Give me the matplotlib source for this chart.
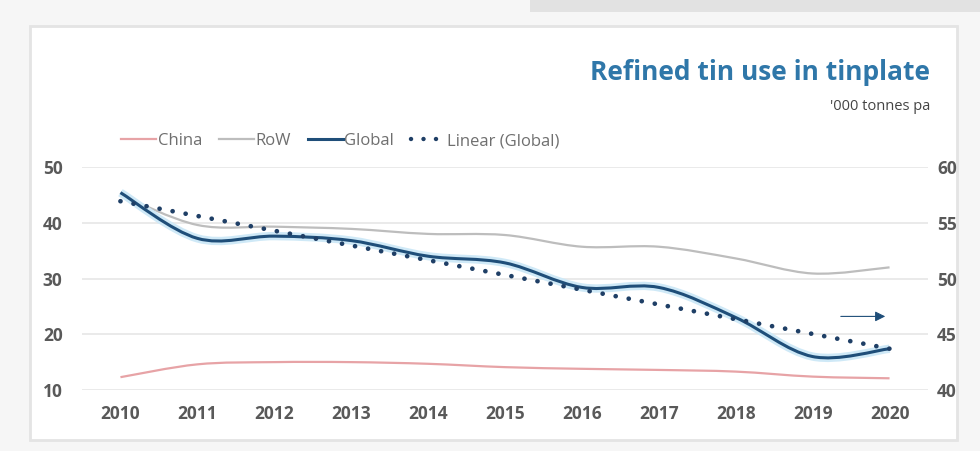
import matplotlib
matplotlib.use('Agg')
import matplotlib.pyplot as plt
import numpy as np
from matplotlib.path import Path
from matplotlib.patches import PathPatch, Rectangle
from matplotlib.lines import Line2D

plt.rcParams['font.family'] = ['Open Sans', 'DejaVu Sans']

years = [2010, 2011, 2012, 2013, 2014, 2015, 2016, 2017, 2018, 2019, 2020]
china = [12.3, 14.6, 15.0, 15.0, 14.7, 14.1, 13.8, 13.6, 13.3, 12.4, 12.1]
row = [45.0, 39.6, 39.3, 38.9, 38.0, 37.8, 35.7, 35.7, 33.6, 30.9, 32.0]
global_use = [57.7, 53.6, 53.8, 53.4, 52.0, 51.4, 49.2, 49.2, 46.5, 43.0, 43.7]  # right axis

left_ticks = [10, 20, 30, 40, 50]
right_ticks = [40, 45, 50, 55, 60]


def smooth_path(x, y):
    # Excel style smoothed line (Catmull-Rom as cubic bezier)
    x = np.asarray(x, float)
    y = np.asarray(y, float)
    pts = np.column_stack([x, y])
    verts = [pts[0]]
    codes = [Path.MOVETO]
    n = len(pts)
    for i in range(n - 1):
        p0 = pts[i - 1] if i > 0 else pts[i]
        p1 = pts[i]
        p2 = pts[i + 1]
        p3 = pts[i + 2] if i + 2 < n else pts[i + 1]
        c1 = p1 + (p2 - p0) / 6.0
        c2 = p2 - (p3 - p1) / 6.0
        verts += [c1, c2, p2]
        codes += [Path.CURVE4] * 3
    return Path(verts, codes)


fig = plt.figure(figsize=(9.8, 4.51), dpi=100)
fig.patch.set_facecolor('#f6f6f6')
fig.patches.append(Rectangle((30 / 980, 1 - 440 / 451), 927 / 980, 414 / 451,
                             transform=fig.transFigure, facecolor='white',
                             edgecolor='#e4e4e4', lw=2, zorder=-2))
fig.patches.append(Rectangle((530 / 980, 1 - 12 / 451), 450 / 980, 12 / 451,
                             transform=fig.transFigure, facecolor='#e2e2e2',
                             edgecolor='none', zorder=-2))

ax = fig.add_axes([82 / 980, 61 / 451, 846 / 980, 223 / 451])
ax.set_facecolor('none')
ax2 = ax.twinx()

ax.set_xlim(2009.5, 2020.5)
ax.set_ylim(10, 50)
ax2.set_ylim(40, 60)
ax.set_yticks(left_ticks)
ax2.set_yticks(right_ticks)
ax.set_xticks(years)

for t in left_ticks:
    ax.axhline(t, color='#e6e6e6', lw=1.2, zorder=0)

for a in (ax, ax2):
    for s in a.spines.values():
        s.set_visible(False)
    a.tick_params(length=0, colors='#595959', labelsize=12.5)

for lab in ax.get_xticklabels() + ax.get_yticklabels() + ax2.get_yticklabels():
    lab.set_fontweight('bold')
ax.tick_params(axis='x', pad=11)
ax.tick_params(axis='y', pad=14)
ax2.tick_params(axis='y', pad=6.5)

ax.add_patch(PathPatch(smooth_path(years, china), fill=False, edgecolor='#e7a3a6', lw=1.6, zorder=2))
ax.add_patch(PathPatch(smooth_path(years, row), fill=False, edgecolor='#bdbdbd', lw=1.6, zorder=2))

# global with a soft glow, on right axis
ax2.add_patch(PathPatch(smooth_path(years, global_use), fill=False, edgecolor='#cfe9f7', lw=6, zorder=2))
ax2.add_patch(PathPatch(smooth_path(years, global_use), fill=False, edgecolor='#1f4e79', lw=2.2, zorder=3))

fit = np.polyfit(years, global_use, 1)
trend = np.polyval(fit, years)
ax2.plot(years, trend, color='#1f3f66', lw=3.4, linestyle=(0, (0.01, 2.8)),
         dash_capstyle='round', zorder=4)

# arrow showing global is on right axis
ax2.annotate('', xy=(2019.98, 46.6), xytext=(2019.33, 46.6),
             arrowprops=dict(arrowstyle='-|>', color='#1f4e79', lw=0.8,
                             mutation_scale=15))

handles = [
    Line2D([], [], color='#e7a3a6', lw=1.6),
    Line2D([], [], color='#bdbdbd', lw=1.6),
    Line2D([], [], color='#1f4e79', lw=2.2),
    Line2D([], [], color='#1f3f66', lw=3.2, linestyle=(0, (0.01, 2.8)), dash_capstyle='round'),
]
labels = ['China', 'RoW', 'Global', 'Linear (Global)']
fig.legend(handles, labels, loc='center left', bbox_to_anchor=(106 / 980, 1 - 141 / 451),
           ncol=4, frameon=False, fontsize=12, handlelength=2.1, handletextpad=0.1,
           columnspacing=1.0, labelcolor='#6f6f6f')

fig.text(930 / 980, 1 - 72 / 451, 'Refined tin use in tinplate', ha='right', va='center',
         fontsize=19, fontweight='bold', color='#2f77a9')
fig.text(930 / 980, 1 - 106 / 451, "'000 tonnes pa", ha='right', va='center',
         fontsize=10.5, color='#444444')

fig.savefig('out.png', dpi=100, facecolor=fig.get_facecolor())
